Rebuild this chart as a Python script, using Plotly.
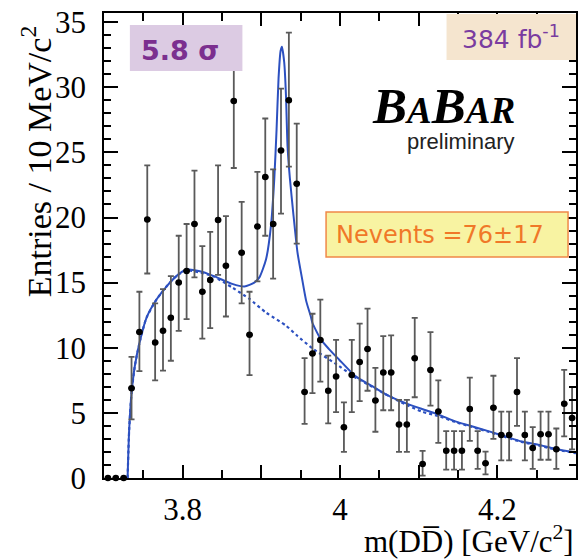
import plotly.graph_objects as go

# Histogram of m(DDbar): bin centres (GeV/c^2), entries per 10 MeV/c^2 and asymmetric errors
mass = [3.705, 3.715, 3.725, 3.735, 3.745, 3.755, 3.765, 3.775, 3.785, 3.795,
        3.805, 3.815, 3.825, 3.835, 3.845, 3.855, 3.865, 3.875, 3.885, 3.895,
        3.905, 3.915, 3.925, 3.935, 3.945, 3.955, 3.965, 3.975, 3.985, 3.995,
        4.005, 4.015, 4.025, 4.035, 4.045, 4.055, 4.065, 4.075, 4.085, 4.095,
        4.105, 4.115, 4.125, 4.135, 4.145, 4.155, 4.165, 4.175, 4.185, 4.195,
        4.205, 4.215, 4.225, 4.235, 4.245, 4.255, 4.265, 4.275, 4.285, 4.295]
entries = [0, 0, 0, 6.9, 11.2, 19.85, 10.4, 11.3, 12.3, 15.0,
           15.9, 19.5, 14.3, 15.2, 19.8, 16.3, 28.95, 17.3, 11.0, 19.3,
           23.1, 19.5, 25.15, 29.0, 22.6, 6.6, 9.56, 10.6, 6.7, 7.8,
           3.9, 7.9, 8.9, 9.9, 5.95, 8.1, 8.1, 4.1, 4.1, 9.2,
           1.08, 8.3, 5.1, 2.1, 2.1, 2.1, 5.3, 2.1, 1.13, 5.4,
           3.3, 3.3, 6.6, 3.3, 2.3, 3.35, 3.35, 2.2, 5.7, 4.6]
err_up = [0, 0, 0, 2.4, 3.1, 4.15, 3.0, 3.2, 3.2, 3.6,
          3.6, 4.1, 3.5, 3.7, 4.2, 3.8, 5.25, 3.9, 3.3, 4.2,
          4.5, 4.2, 4.75, 5.2, 4.6, 2.6, 3.05, 3.1, 2.7, 2.8,
          1.9, 2.7, 2.95, 3.1, 2.5, 2.8, 2.85, 1.9, 1.9, 3.1,
          1.0, 2.9, 2.4, 1.5, 1.5, 1.5, 2.4, 1.5, 0.9, 2.45,
          1.8, 1.8, 2.6, 1.8, 1.6, 1.75, 1.75, 1.6, 2.6, 2.4]
err_down = [0, 0, 0, 2.4, 3.0, 4.15, 2.9, 3.05, 3.3, 3.7,
            3.7, 4.1, 3.6, 3.7, 4.2, 3.9, 5.15, 3.9, 3.1, 4.2,
            4.5, 4.2, 4.85, 5.1, 4.6, 2.45, 3.05, 3.2, 2.5, 2.75,
            1.9, 2.85, 3.0, 3.2, 2.4, 2.9, 2.9, 2.1, 2.1, 3.0,
            0.9, 2.75, 2.4, 1.45, 1.45, 1.45, 2.45, 1.4, 0.85, 2.4,
            1.95, 1.95, 2.6, 1.95, 1.6, 1.95, 1.95, 1.5, 2.5, 2.4]

# Total fit (signal + background)
fit_mass = [3.7300, 3.7320, 3.7350, 3.7392, 3.7456, 3.7540, 3.7667, 3.7794, 3.7920, 3.8050,
            3.8266, 3.8434, 3.8630, 3.8785, 3.8910, 3.8975, 3.9060, 3.9123, 3.9165, 3.9194,
            3.9219, 3.9245, 3.9262, 3.9291, 3.9313, 3.9333, 3.9363, 3.9405, 3.9460, 3.9515,
            3.9570, 3.9629, 3.9650, 3.9760, 3.9860, 3.9987, 4.0199, 4.0409, 4.0620, 4.0832,
            4.1042, 4.1253, 4.1465, 4.1675, 4.1886, 4.2097, 4.2308, 4.2519, 4.2730, 4.3000]
fit_total = [0.0, 3.7, 6.5, 8.6, 10.5, 12.3, 13.7, 14.7, 15.5, 16.0,
             15.8, 15.4, 14.9, 14.7, 15.0, 15.4, 16.8, 19.4, 23.0, 26.8,
             30.7, 32.8, 33.1, 31.9, 29.4, 25.5, 23.0, 20.4, 17.3, 15.4,
             13.6, 12.4, 11.9, 10.6, 9.9, 9.1, 7.8, 7.05, 6.3, 5.75,
             5.3, 4.87, 4.35, 3.97, 3.6, 3.2, 2.8, 2.55, 2.25, 1.95]

# Background-only component
bkg_mass = [3.7300, 3.7320, 3.7350, 3.7392, 3.7456, 3.7540, 3.7667, 3.7794, 3.7920, 3.8050,
            3.8200, 3.8384, 3.8637, 3.8848, 3.9060, 3.9313, 3.9460, 3.9650, 3.9987, 4.0199,
            4.0409, 4.0620, 4.0832, 4.1042, 4.1253, 4.1465, 4.1675, 4.1886, 4.2097, 4.2308,
            4.2519, 4.2730, 4.3000]
bkg_only = [0.0, 3.7, 6.5, 8.6, 10.5, 12.3, 13.7, 14.7, 15.5, 15.95,
            15.8, 15.5, 14.6, 13.75, 12.7, 11.7, 10.9, 9.95, 8.6, 7.7,
            7.0, 6.3, 5.65, 5.1, 4.75, 4.3, 3.92, 3.55, 3.15, 2.77,
            2.5, 2.2, 1.9]

x_tick_vals = [3.8, 3.9, 4.0, 4.1, 4.2]
x_tick_text = ["3.8", "", "4", "", "4.2"]
y_tick_vals = [0, 5, 10, 15, 20, 25, 30, 35]
y_tick_text = ["0", "5", "10", "15", "20", "25", "30", "35"]

W, H = 581, 560
ML, MR, MT, MB = 104, 3, 13, 82
PW, PH = W - ML - MR, H - MT - MB


def fx(px):
    return (px - ML) / PW


def fy(py):
    return (H - MB - py) / PH


BLUE = "#2c50c0"
SERIF = "Liberation Serif"

fig = go.Figure()

fig.add_trace(go.Scatter(
    x=bkg_mass, y=bkg_only, mode="lines",
    line=dict(color=BLUE, width=2.2, dash="dot", shape="spline", smoothing=0.6),
    hoverinfo="skip", showlegend=False))

fig.add_trace(go.Scatter(
    x=fit_mass, y=fit_total, mode="lines",
    line=dict(color=BLUE, width=2, shape="spline", smoothing=0.6),
    hoverinfo="skip", showlegend=False))

fig.add_trace(go.Scatter(
    x=mass, y=entries, mode="markers",
    marker=dict(color="black", size=6.5),
    error_y=dict(type="data", symmetric=False, array=err_up, arrayminus=err_down,
                 color="#5a5a5a", thickness=1.8, width=3),
    error_x=dict(type="constant", value=0.004, color="black", thickness=2.5, width=0),
    cliponaxis=False, showlegend=False))

axis_common = dict(
    showline=True, linecolor="black", linewidth=1.5, mirror="allticks",
    ticks="inside", tickcolor="black", tickwidth=1.5, showgrid=False, zeroline=False,
    tickfont=dict(family=SERIF, size=31, color="black"),
)

fig.update_xaxes(range=[3.7, 4.3], tickvals=x_tick_vals, ticktext=x_tick_text,
                 ticklen=13, ticklabelstandoff=3,
                 minor=dict(tick0=3.7, dtick=0.05, ticklen=8, ticks="inside",
                            tickcolor="black", tickwidth=1.5),
                 **axis_common)
fig.update_yaxes(range=[0, 35.7], tickvals=y_tick_vals, ticktext=y_tick_text,
                 ticklen=14, ticklabelstandoff=10,
                 minor=dict(tick0=0, dtick=1, ticklen=7, ticks="inside",
                            tickcolor="black", tickwidth=1.5),
                 **axis_common)

shapes = [
    dict(type="rect", xref="paper", yref="paper", x0=fx(130), x1=fx(243), y0=fy(71), y1=fy(25),
         fillcolor="#dccbe3", line=dict(width=0), layer="above"),
    dict(type="rect", xref="paper", yref="paper", x0=fx(448), x1=fx(578), y0=fy(60), y1=fy(14),
         fillcolor="#f5e5cf", line=dict(width=0), layer="above"),
    dict(type="rect", xref="paper", yref="paper", x0=fx(327), x1=fx(570), y0=fy(257), y1=fy(212),
         fillcolor="#f8f3a2", line=dict(color="#f08848", width=1.5), layer="above"),
]

babar = ("<b><i>B<span style='font-size:37px'>A</span>B"
         "<span style='font-size:37px'>AR</span></i></b>")


def label(text, px, py, size, color, family, xanchor="center", **kw):
    return dict(text=text, x=fx(px), y=fy(py), xref="paper", yref="paper",
                xanchor=xanchor, yanchor="middle", showarrow=False,
                font=dict(family=family, size=size, color=color), **kw)


annotations = [
    label("<b>5.8 σ</b>", 180, 50, 27, "#7b2f8f", "DejaVu Sans"),
    label("384 fb<sup>-1</sup>", 513, 37, 25, "#7a3ca0", "DejaVu Sans"),
    label(babar, 519, 106, 51, "black", SERIF, xanchor="right"),
    label("preliminary", 519, 141, 22, "#222222", "Liberation Sans", xanchor="right"),
    label("Nevents =76±17", 441, 235, 24, "#f07828", "DejaVu Sans"),
    label("Entries / 10 MeV/c<sup>2</sup>", 36, 161, 34, "black", SERIF, textangle=-90),
    label("m(DD\u0305) [GeV/c<sup>2</sup>]", 578, 539, 31, "black", SERIF, xanchor="right"),
]

fig.update_layout(
    width=W, height=H,
    margin=dict(l=ML, r=MR, t=MT, b=MB),
    paper_bgcolor="white", plot_bgcolor="white",
    shapes=shapes, annotations=annotations,
    showlegend=False,
)

fig.write_html("out.html")
